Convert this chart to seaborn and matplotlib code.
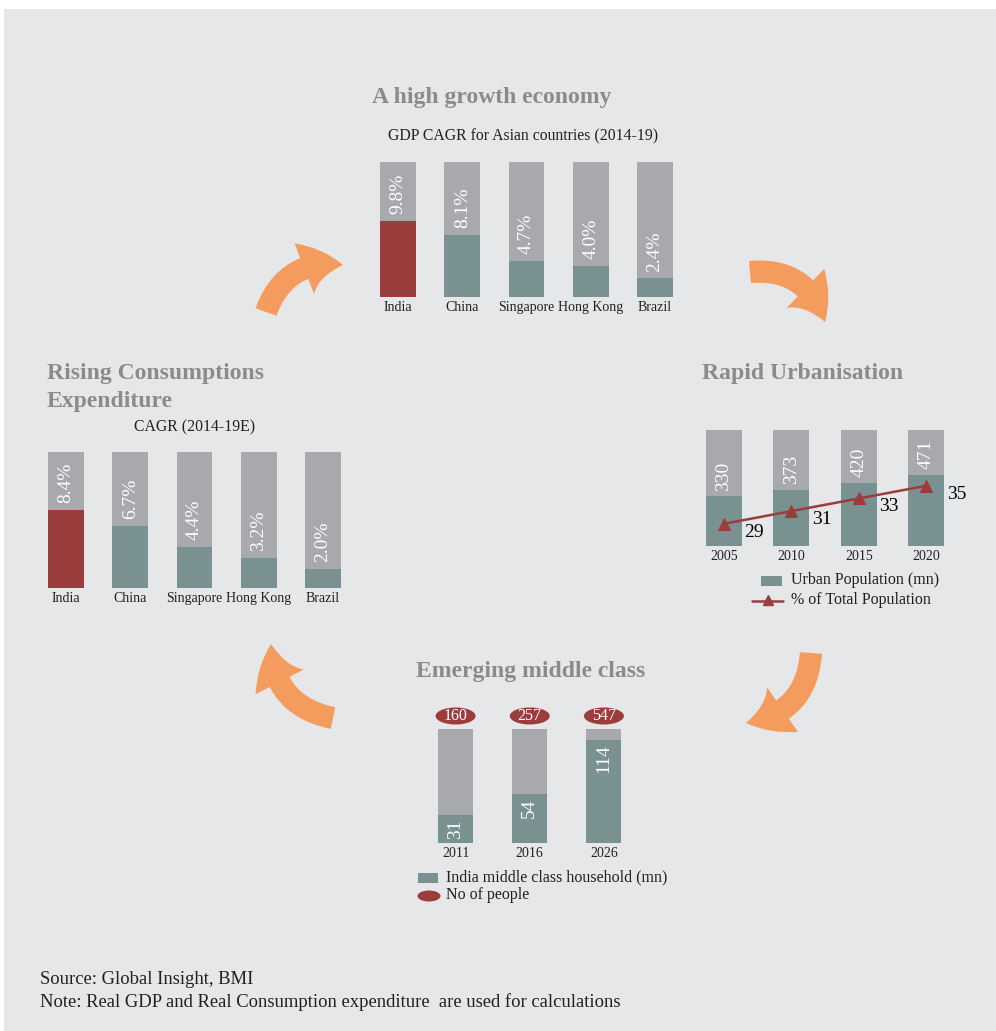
import numpy as np
import pandas as pd
import matplotlib
matplotlib.use("Agg")
import matplotlib.pyplot as plt
import seaborn as sns
from matplotlib.patches import Rectangle, Ellipse, FancyArrowPatch
from matplotlib.lines import Line2D

# ---- data -------------------------------------------------------------
gdp_countries = ["India", "China", "Singapore", "Hong Kong", "Brazil"]
gdp_cagr = [9.8, 8.1, 4.7, 4.0, 2.4]
gdp_scale_max = 17.5

cons_countries = ["India", "China", "Singapore", "Hong Kong", "Brazil"]
cons_cagr = [8.4, 6.7, 4.4, 3.2, 2.0]
cons_scale_max = 14.6

urban_years = ["2005", "2010", "2015", "2020"]
urban_pop_mn = [330, 373, 420, 471]
urban_share_pct = [29, 31, 33, 35]
urban_scale_max = 770
urban_share_range = (25.5, 43.8)

mc_years = ["2011", "2016", "2026"]
mc_households_mn = [31, 54, 114]
mc_people_mn = [160, 257, 547]
mc_scale_max = 126

# ---- style ------------------------------------------------------------
BG = "#E6E7E8"
TRACK = "#A7A9AC"
TEAL = "#7A9192"
RED = "#9B3C3D"
ORANGE = "#F39C5E"
TITLE = "#8A8B8C"
INK = "#231F20"

sns.set_theme(style="white")
plt.rcParams["font.family"] = ["Liberation Serif", "DejaVu Serif"]

W, H = 996, 1031
fig = plt.figure(figsize=(W / 100, H / 100), dpi=100)
fig.patch.set_facecolor("white")

canvas = fig.add_axes([0, 0, 1, 1], zorder=0)
canvas.set_xlim(0, W)
canvas.set_ylim(H, 0)
canvas.axis("off")
canvas.add_patch(Rectangle((4, 9), W - 4, H - 9, fc=BG, ec="none"))


def px_axes(x0, y0, x1, y1, z=2):
    return fig.add_axes([x0 / W, 1 - y1 / H, (x1 - x0) / W, (y1 - y0) / H], zorder=z)


def clean(ax):
    ax.patch.set_alpha(0)
    for s in ax.spines.values():
        s.set_visible(False)
    ax.set_yticks([])
    ax.set_xlabel("")
    ax.set_ylabel("")
    ax.grid(False)


def bar_panel(rect, cats, vals, vmax, colors, width, labelsize=10):
    ax = px_axes(*rect)
    df = pd.DataFrame({"cat": cats, "val": vals, "track": [vmax] * len(cats)})
    sns.barplot(data=df, x="cat", y="track", color=TRACK, width=width,
                saturation=1, ax=ax, errorbar=None, edgecolor="none", linewidth=0)
    sns.barplot(data=df, x="cat", y="val", hue="cat", palette=colors,
                width=width, saturation=1, ax=ax, errorbar=None, legend=False,
                edgecolor="none", linewidth=0)
    ax.set_ylim(0, vmax)
    ax.set_xlim(-0.5, len(cats) - 0.5)
    clean(ax)
    ax.tick_params(axis="x", length=0, pad=3, labelsize=labelsize, labelcolor=INK)
    return ax


# ---- A high growth economy -------------------------------------------
ax1 = bar_panel((366, 162, 687, 297), gdp_countries, gdp_cagr, gdp_scale_max,
                [RED] + [TEAL] * 4, 0.56)
for i, v in enumerate(gdp_cagr):
    ax1.annotate(f"{v:.1f}%", xy=(i, v), xytext=(0, 5), textcoords="offset points",
                 rotation=90, ha="center", va="bottom", color="white", fontsize=14)

canvas.text(492, 97, "A high growth economy", ha="center", va="center",
            fontsize=17, fontweight="bold", color=TITLE)
canvas.text(523, 136, "GDP CAGR for Asian countries (2014-19)", ha="center",
            va="center", fontsize=11.3, color=INK)

# ---- Rising consumption expenditure ----------------------------------
ax3 = bar_panel((34, 452, 355, 588), cons_countries, cons_cagr, cons_scale_max,
                [RED] + [TEAL] * 4, 0.56)
for i, v in enumerate(cons_cagr):
    ax3.annotate(f"{v:.1f}%", xy=(i, v), xytext=(0, 5), textcoords="offset points",
                 rotation=90, ha="center", va="bottom", color="white", fontsize=14)

canvas.text(47, 373, "Rising Consumptions", ha="left", va="center",
            fontsize=17, fontweight="bold", color=TITLE)
canvas.text(47, 402, "Expenditure", ha="left", va="center",
            fontsize=17, fontweight="bold", color=TITLE)
canvas.text(195, 427, "CAGR (2014-19E)", ha="center", va="center",
            fontsize=11.3, color=INK)

# ---- Rapid urbanisation ----------------------------------------------
ax2 = bar_panel((690, 430, 960, 546), urban_years, urban_pop_mn, urban_scale_max,
                [TEAL] * 4, 0.535)
for i, v in enumerate(urban_pop_mn):
    ax2.annotate(f"{v}", xy=(i, v), xytext=(0, 4), textcoords="offset points",
                 rotation=90, ha="center", va="bottom", color="white", fontsize=14)

ax2b = ax2.twinx()
ax2b.set_zorder(3)
sns.lineplot(x=np.arange(len(urban_years)), y=urban_share_pct, ax=ax2b, color=RED,
             marker="^", markersize=8, markeredgecolor=RED, linewidth=1.8)
ax2b.set_ylim(*urban_share_range)
ax2b.set_xlim(-0.5, len(urban_years) - 0.5)
clean(ax2b)
ax2b.tick_params(right=False, labelright=False)
for i, v in enumerate(urban_share_pct):
    ax2b.annotate(f"{v}", xy=(i, v), xytext=(22, -6), textcoords="offset points",
                  ha="center", va="center", fontsize=14, color="black")

canvas.text(803, 373, "Rapid Urbanisation", ha="center", va="center",
            fontsize=17, fontweight="bold", color=TITLE)
canvas.add_patch(Rectangle((761, 576), 21, 10, fc=TEAL, ec="none"))
canvas.text(791, 580, "Urban Population (mn)", ha="left", va="center",
            fontsize=11.5, color=INK)
canvas.add_line(Line2D([752, 783], [601, 601], color=RED, lw=1.8))
canvas.add_line(Line2D([768], [600], color=RED, marker="^", markersize=7))
canvas.text(791, 600, "% of Total Population", ha="left", va="center",
            fontsize=11.5, color=INK)

# ---- Emerging middle class -------------------------------------------
ax4 = bar_panel((418.5, 729, 641, 843), mc_years, mc_households_mn, mc_scale_max,
                [TEAL] * 3, 0.47)
for i, v in enumerate(mc_households_mn):
    ax4.annotate(f"{v}", xy=(i, v), xytext=(0, -3), textcoords="offset points",
                 rotation=90, ha="center", va="top", color="white", fontsize=14)

# badge sizes in pixels, converted to this panel's data units
px_per_x = (641 - 418.5) / len(mc_years)
px_per_y = (843 - 729) / mc_scale_max
for i, p in enumerate(mc_people_mn):
    cy = mc_scale_max + 13 / px_per_y
    ax4.add_patch(Ellipse((i, cy), 40 / px_per_x, 17 / px_per_y, fc=RED, ec="none",
                          clip_on=False))
    ax4.text(i, cy, f"{p}", ha="center", va="center", color="white", fontsize=11.5,
             clip_on=False)

canvas.text(531, 671, "Emerging middle class", ha="center", va="center",
            fontsize=17, fontweight="bold", color=TITLE)
canvas.add_patch(Rectangle((418, 873), 20, 10, fc=TEAL, ec="none"))
canvas.text(446, 877, "India middle class household (mn)", ha="left", va="center",
            fontsize=11.5, color=INK)
canvas.add_patch(Ellipse((429, 896), 23, 11, fc=RED, ec="none"))
canvas.text(446, 895, "No of people", ha="left", va="center",
            fontsize=11.5, color=INK)

# ---- cycle arrows ------------------------------------------------------
arrow_style = "simple,head_length=28,head_width=39,tail_width=16"
for a, b in [((266, 312), (343, 265)),
             ((750, 272), (825, 322)),
             ((811, 653), (746, 723)),
             ((333, 718), (271, 644))]:
    canvas.add_patch(FancyArrowPatch(a, b, connectionstyle="arc3,rad=-0.4",
                                     arrowstyle=arrow_style, mutation_scale=1,
                                     shrinkA=0, shrinkB=0, fc=ORANGE, ec="none"))

# ---- footnotes ---------------------------------------------------------
canvas.text(40, 980, "Source: Global Insight, BMI", ha="left", va="center",
            fontsize=13.4, color=INK)
canvas.text(40, 1002, "Note: Real GDP and Real Consumption expenditure  are used for calculations",
            ha="left", va="center", fontsize=13.4, color=INK)

fig.savefig("out.png", dpi=100, facecolor=fig.get_facecolor())
